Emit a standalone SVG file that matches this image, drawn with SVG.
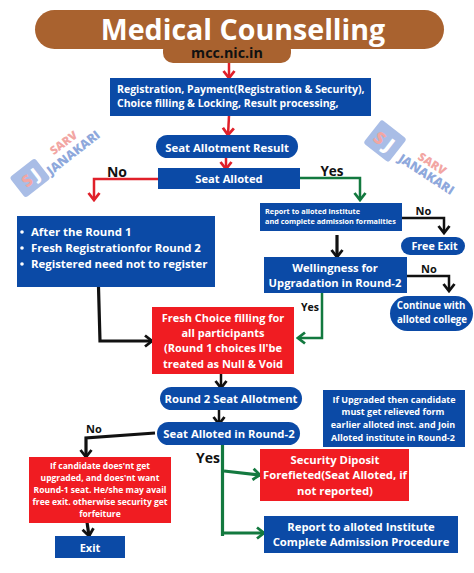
<svg xmlns="http://www.w3.org/2000/svg" width="474" height="573" viewBox="0 0 474 573">
<style>
text{font-family:"Open Sans","Noto Sans","Liberation Sans",sans-serif;font-weight:700;fill:#fff;text-anchor:middle}
.l{text-anchor:start}
text.k{fill:#111}
.b{fill:#0b4aa6}
.r{fill:#f01c22}
.c{fill:none;stroke-width:2.5}
.t{stroke-width:3.2}
.red{stroke:#e0202a}.grn{stroke:#13793f}.blk{stroke:#111}
.lg{fill:#a9bde6}
text.wp{fill:#f2a6a3;font-weight:800}
text.wb{fill:#8ea8dc;font-weight:800}
text.wj{fill:#fff;font-weight:800}
</style>
<defs>
<marker id="ar" markerUnits="userSpaceOnUse" viewBox="0 0 14 14" refX="12" refY="7" markerWidth="14" markerHeight="14" orient="auto"><path d="M5 1.5L12 7L5 12.5" fill="none" stroke="#e0202a" stroke-width="2.8"/></marker>
<marker id="ag" markerUnits="userSpaceOnUse" viewBox="0 0 14 14" refX="12" refY="7" markerWidth="14" markerHeight="14" orient="auto"><path d="M5 1.5L12 7L5 12.5" fill="none" stroke="#13793f" stroke-width="2.8"/></marker>
<marker id="ak" markerUnits="userSpaceOnUse" viewBox="0 0 14 14" refX="12" refY="7" markerWidth="14" markerHeight="14" orient="auto"><path d="M5 1.5L12 7L5 12.5" fill="none" stroke="#111" stroke-width="2.8"/></marker>
</defs>
<rect width="474" height="573" fill="#fff"/>
<g id="watermark-left">
<g transform="rotate(-38 30 178)">
<rect class="lg" x="14" y="165" width="32" height="26" rx="3"/>
<text class="wp" x="26" y="184" font-size="16">S</text>
<text class="wj" x="37" y="184" font-size="17">J</text>
</g>
<text class="wp" transform="translate(66 146) rotate(-37)" x="0" y="0" font-size="11.5">SARV</text>
<text class="wb" transform="translate(76 156) rotate(-38)" x="0" y="0" font-size="12.5">JANAKARI</text>
</g>
<g id="watermark-right">
<g transform="rotate(38 385 141)">
<rect class="lg" x="369" y="126" width="32" height="30" rx="3"/>
<text class="wp" x="379" y="148" font-size="17">S</text>
<text class="wj" x="391" y="148" font-size="19">J</text>
</g>
<text class="wp" transform="translate(430 167) rotate(33)" x="0" y="0" font-size="11.5">SARV</text>
<text class="wb" transform="translate(424 178) rotate(33)" x="0" y="0" font-size="12.5">JANAKARI</text>
</g>
<g id="connectors">
<path class="c red" marker-end="url(#ar)" d="M229 63V78"/>
<path class="c red" marker-end="url(#ar)" d="M229 116L228 135"/>
<path class="c red" marker-end="url(#ar)" d="M226 157V169"/>
<path class="c red" marker-end="url(#ar)" d="M158 179H94V200"/>
<path class="c grn" marker-end="url(#ag)" d="M300 178H360V200"/>
<path class="c blk" marker-end="url(#ak)" d="M402 218H444V233"/>
<path class="c blk t" marker-end="url(#ak)" d="M337 235V257"/>
<path class="c blk" marker-end="url(#ak)" d="M407 276H449V291"/>
<path class="c grn" marker-end="url(#ag)" d="M322 293V338H298"/>
<path class="c blk t" marker-end="url(#ak)" d="M98.500 287L100 341H152"/>
<path class="c blk" marker-end="url(#ak)" d="M221 374V388"/>
<path class="c blk" marker-end="url(#ak)" d="M219 409V424"/>
<path class="c blk t" marker-end="url(#ak)" d="M155 433L86 438V457"/>
<path class="c grn t" d="M222.500 445V536"/>
<path class="c grn t" marker-end="url(#ag)" d="M224 471L260 475"/>
<path class="c grn t" marker-end="url(#ag)" d="M222 533H264"/>
<path class="c blk t" marker-end="url(#ak)" d="M87 522L89 536"/>
</g>
<g id="header">
<rect x="35" y="10" width="409" height="39" rx="19.500" fill="#a9622f"/>
<rect x="163" y="40" width="128" height="23" rx="10" fill="#a9622f"/>
<text x="243" y="39.500" font-size="28.600">Medical Counselling</text>
<text class="k" x="227" y="58" font-size="14.300">mcc.nic.in</text>
</g>
<g id="n-registration">
<rect class="b" x="110" y="78" width="261" height="38"/>
<text class="l" x="117" y="93" font-size="10.500">Registration, Payment(Registration &amp; Security),</text>
<text class="l" x="117" y="107" font-size="10.500">Choice filling &amp; Locking, Result processing,</text>
</g>
<g id="n-result">
<rect class="b" x="156" y="135" width="142" height="23" rx="11.500"/>
<text x="227" y="152" font-size="11.400">Seat Allotment Result</text>
</g>
<g id="n-alloted">
<rect class="b" x="158" y="168" width="142" height="21"/>
<text x="229" y="183" font-size="11.200">Seat Alloted</text>
</g>
<text class="k" x="117" y="177" font-size="14">No</text>
<text class="k" x="332" y="176" font-size="13.500">Yes</text>
<g id="n-after">
<rect class="b" x="17" y="216" width="198" height="71"/>
<circle cx="22" cy="232" r="1.800" fill="#fff"/><circle cx="22" cy="248" r="1.800" fill="#fff"/><circle cx="22" cy="264" r="1.800" fill="#fff"/>
<text class="l" x="31" y="236" font-size="11.400">After the Round 1</text>
<text class="l" x="31" y="252" font-size="11.400">Fresh Registrationfor Round 2</text>
<text class="l" x="31" y="268" font-size="11.400">Registered need not to register</text>
</g>
<g id="n-report">
<rect class="b" x="260" y="203" width="142" height="28"/>
<text class="l" x="265" y="214" font-size="7.300">Report to alloted institute</text>
<text class="l" x="265" y="224" font-size="7.300">and complete admission formalities</text>
</g>
<text class="k" x="423.500" y="215" font-size="11">No</text>
<g id="n-exit1">
<rect class="b" x="401" y="237" width="64" height="18" rx="9"/>
<text x="434.500" y="250" font-size="10.700">Free Exit</text>
</g>
<g id="n-wellingness">
<rect class="b" x="264" y="257" width="143" height="36"/>
<text x="335" y="272" font-size="11.200">Wellingness for</text>
<text x="335" y="287" font-size="11.200">Upgradation in Round-2</text>
</g>
<text class="k" x="429" y="273" font-size="11">No</text>
<g id="n-continue">
<rect class="b" x="390" y="296" width="83" height="35" rx="17.500"/>
<text x="431" y="309" font-size="9.700">Continue with</text>
<text x="432" y="323" font-size="9.700">alloted college</text>
</g>
<text class="k" x="310" y="311" font-size="10.500">Yes</text>
<g id="n-fresh">
<rect class="r" x="152" y="307" width="142" height="67"/>
<text x="223" y="322" font-size="11">Fresh Choice filling for</text>
<text x="223" y="337" font-size="11">all participants</text>
<text x="223" y="352" font-size="11">(Round 1 choices ll'be</text>
<text x="223" y="368" font-size="11">treated as Null &amp; Void</text>
</g>
<g id="n-round2">
<rect class="b" x="160" y="387" width="142" height="23" rx="11.500"/>
<text x="231" y="403" font-size="11.300">Round 2 Seat Allotment</text>
</g>
<g id="n-alloted2">
<rect class="b" x="157" y="422" width="143" height="23" rx="11.500"/>
<text x="229" y="438" font-size="11.300">Seat Alloted in Round-2</text>
</g>
<g id="n-note">
<rect class="b" x="323" y="390" width="142" height="57"/>
<text x="394" y="403" font-size="9">If Upgraded then candidate</text>
<text x="393" y="415" font-size="9">must get relieved form</text>
<text x="393" y="428" font-size="9">earlier alloted inst. and Join</text>
<text x="393" y="441" font-size="9">Alloted institute in Round-2</text>
</g>
<text class="k" x="94" y="433" font-size="11">No</text>
<text class="k" x="208" y="463" font-size="14">Yes</text>
<g id="n-candidate">
<rect class="r" x="29" y="457" width="142" height="66"/>
<text x="100" y="469" font-size="8.500">If candidate does'nt get</text>
<text x="100" y="481" font-size="8.500">upgraded, and does'nt want</text>
<text x="100" y="493" font-size="8.500">Round-1 seat. He/she may avail</text>
<text x="100" y="505" font-size="8.500">free exit. otherwise security get</text>
<text x="100" y="517" font-size="8.500">forfeiture</text>
</g>
<g id="n-security">
<rect class="r" x="260" y="449" width="149" height="52"/>
<text x="335" y="464" font-size="11.300">Security Diposit</text>
<text x="335" y="479" font-size="11.300">Forefieted(Seat Alloted, if</text>
<text x="335" y="495" font-size="11.300">not reported)</text>
</g>
<g id="n-reportfinal">
<rect class="b" x="264" y="516" width="194" height="37"/>
<text x="361" y="531" font-size="11.300">Report to alloted Institute</text>
<text x="361" y="546" font-size="11.300">Complete Admission Procedure</text>
</g>
<g id="n-exit2">
<rect class="b" x="55" y="536" width="70" height="22"/>
<text x="90" y="552" font-size="11">Exit</text>
</g>
</svg>
